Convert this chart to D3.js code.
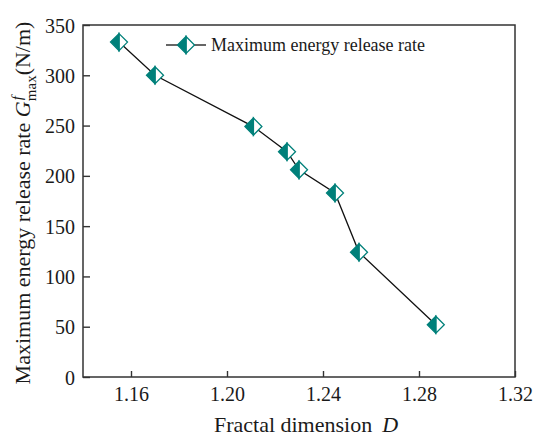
<!DOCTYPE html>
<html>
<head>
<meta charset="utf-8">
<script src="https://cdn.jsdelivr.net/npm/d3@7"></script>
<style>
  body { margin: 0; background: #fff; }
</style>
</head>
<body>
<div class="container"></div>
<script>
// values
const fractalD = [1.155, 1.170, 1.211, 1.225, 1.230, 1.245, 1.255, 1.287];
const gMax = [333, 300, 249, 224, 206, 183, 124, 52];
const xTicks = [1.16, 1.20, 1.24, 1.28, 1.32];
const yTicks = [0, 50, 100, 150, 200, 250, 300, 350];
const seriesName = "Maximum energy release rate";

const w = 535, h = 436;
const margin = { left: 83, right: 20, top: 25, bottom: 59 };
const teal = "#00807a";
const serif = "'Liberation Serif'";

const svg = d3.select(".container").append("svg")
  .attr("width", w).attr("height", h);

const xScale = d3.scaleLinear().domain([1.14, 1.32]).range([margin.left, w - margin.right]);
const yScale = d3.scaleLinear().domain([0, 350]).range([h - margin.bottom, margin.top]);

/* axes, ticks pointing inward */
const xAxis = d3.axisBottom(xScale).tickValues(xTicks).tickFormat(d3.format(".2f"))
  .tickSizeInner(-6).tickSizeOuter(0).tickPadding(10);
const yAxis = d3.axisLeft(yScale).tickValues(yTicks).tickFormat(d3.format("d"))
  .tickSizeInner(-7).tickSizeOuter(0).tickPadding(8);

const gx = svg.append("g").attr("transform", `translate(0,${h - margin.bottom})`).call(xAxis);
const gy = svg.append("g").attr("transform", `translate(${margin.left},0)`).call(yAxis);
[gx, gy].forEach(g => {
  g.attr("font-family", null).attr("font-size", null);
  g.select(".domain").remove();
  g.selectAll("line").attr("stroke", "#333").attr("stroke-width", 1.4);
  g.selectAll("text").attr("fill", "#1a1a1a")
    .attr("font-family", serif).attr("font-size", 20);
});
gy.selectAll("text").attr("dy", "0.35em");

/* frame */
svg.append("rect")
  .attr("x", margin.left).attr("y", margin.top)
  .attr("width", w - margin.left - margin.right)
  .attr("height", h - margin.top - margin.bottom)
  .attr("fill", "none").attr("stroke", "#333").attr("stroke-width", 1.5);

/* line */
const pts = fractalD.map((d, i) => [d, gMax[i]]);
svg.append("path")
  .datum(pts)
  .attr("fill", "none").attr("stroke", "#111").attr("stroke-width", 1.3)
  .attr("d", d3.line().x(d => xScale(d[0])).y(d => yScale(d[1])));

/* half filled diamond marker */
const r = 8.5;
function marker(g) {
  g.append("path")
    .attr("d", `M0,${-r}L${r},0L0,${r}Z`)
    .attr("fill", "#fff").attr("stroke", teal).attr("stroke-width", 1.3);
  g.append("path")
    .attr("d", `M0,${-r}L${-r},0L0,${r}Z`)
    .attr("fill", teal).attr("stroke", teal).attr("stroke-width", 1.3);
}

svg.selectAll(".pt")
  .data(pts)
  .enter()
  .append("g")
  .attr("class", "pt")
  .attr("transform", d => `translate(${xScale(d[0])},${yScale(d[1])})`)
  .each(function () { marker(d3.select(this)); });

/* legend */
const legend = svg.append("g").attr("transform", "translate(166,45)");
legend.append("line").attr("x1", 0).attr("x2", 40)
  .attr("stroke", "#333").attr("stroke-width", 1.5);
marker(legend.append("g").attr("transform", "translate(20,0)"));
legend.append("text").attr("x", 45).attr("dy", "0.33em")
  .attr("fill", "#1a1a1a")
  .attr("font-family", serif).attr("font-size", 18)
  .text(seriesName);

/* axis titles */
const xl = svg.append("text")
  .attr("x", 306).attr("y", 432)
  .attr("text-anchor", "middle")
  .attr("fill", "#1a1a1a")
  .attr("font-family", serif).attr("font-size", 22);
xl.append("tspan").text("Fractal dimension");
xl.append("tspan").attr("font-style", "italic").attr("dx", 10).text("D");

const yl = svg.append("text")
  .attr("transform", "translate(30,203) rotate(-90)")
  .attr("text-anchor", "middle")
  .attr("fill", "#1a1a1a")
  .attr("font-family", serif).attr("font-size", 22);
yl.append("tspan").text("Maximum energy release rate ");
yl.append("tspan").attr("font-style", "italic").text("G");
yl.append("tspan").attr("font-style", "italic").attr("font-size", 15).attr("dy", -8).attr("dx", 1).text("f");
yl.append("tspan").attr("font-size", 15).attr("dy", 14).attr("dx", -5).text("max");
yl.append("tspan").attr("dy", -6).text("(N/m)");
</script>
</body>
</html>
